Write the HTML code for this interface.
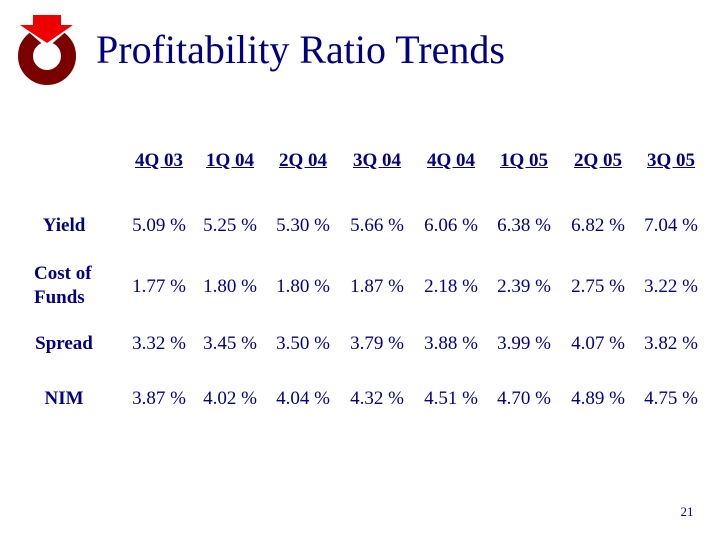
<!DOCTYPE html>
<html><head><style>
body{margin:0;width:720px;height:540px;background:#fff;position:relative;overflow:hidden;font-family:"Liberation Serif",serif;color:#000080}
.t{position:absolute;white-space:nowrap;transform:translate(-50%,-50%);font-size:19px}
.b{font-weight:bold}
.u{text-decoration:underline}
</style></head><body>
<svg width="100" height="100" style="position:absolute;left:0;top:0">
<circle cx="47" cy="56" r="21.5" fill="none" stroke="#7a0000" stroke-width="15"/>
<polygon points="17,22 47,48 77,22" fill="#fff"/>
<polygon points="33,15 61,15 61,25 73,25 47,43 20,25 33,25" fill="#ee0000"/>
</svg>
<div style="position:absolute;left:96px;top:27px;font-size:40px;line-height:46px">Profitability Ratio Trends</div>
<div class="t b u" style="left:159px;top:161px">4Q 03</div>
<div class="t b u" style="left:230px;top:161px">1Q 04</div>
<div class="t b u" style="left:303px;top:161px">2Q 04</div>
<div class="t b u" style="left:377px;top:161px">3Q 04</div>
<div class="t b u" style="left:451px;top:161px">4Q 04</div>
<div class="t b u" style="left:524px;top:161px">1Q 05</div>
<div class="t b u" style="left:598px;top:161px">2Q 05</div>
<div class="t b u" style="left:671px;top:161px">3Q 05</div>

<div class="t b" style="left:64px;top:226px">Yield</div>
<div class="t b" style="left:34px;top:286px;transform:translate(0,-50%);line-height:24px">Cost of<br>Funds</div>
<div class="t b" style="left:64px;top:344px">Spread</div>
<div class="t b" style="left:64px;top:399px">NIM</div>

<div class="t" style="left:159px;top:226px">5.09 %</div><div class="t" style="left:230px;top:226px">5.25 %</div><div class="t" style="left:303px;top:226px">5.30 %</div><div class="t" style="left:377px;top:226px">5.66 %</div><div class="t" style="left:451px;top:226px">6.06 %</div><div class="t" style="left:524px;top:226px">6.38 %</div><div class="t" style="left:598px;top:226px">6.82 %</div><div class="t" style="left:671px;top:226px">7.04 %</div>

<div class="t" style="left:159px;top:287px">1.77 %</div><div class="t" style="left:230px;top:287px">1.80 %</div><div class="t" style="left:303px;top:287px">1.80 %</div><div class="t" style="left:377px;top:287px">1.87 %</div><div class="t" style="left:451px;top:287px">2.18 %</div><div class="t" style="left:524px;top:287px">2.39 %</div><div class="t" style="left:598px;top:287px">2.75 %</div><div class="t" style="left:671px;top:287px">3.22 %</div>

<div class="t" style="left:159px;top:344px">3.32 %</div><div class="t" style="left:230px;top:344px">3.45 %</div><div class="t" style="left:303px;top:344px">3.50 %</div><div class="t" style="left:377px;top:344px">3.79 %</div><div class="t" style="left:451px;top:344px">3.88 %</div><div class="t" style="left:524px;top:344px">3.99 %</div><div class="t" style="left:598px;top:344px">4.07 %</div><div class="t" style="left:671px;top:344px">3.82 %</div>

<div class="t" style="left:159px;top:399px">3.87 %</div><div class="t" style="left:230px;top:399px">4.02 %</div><div class="t" style="left:303px;top:399px">4.04 %</div><div class="t" style="left:377px;top:399px">4.32 %</div><div class="t" style="left:451px;top:399px">4.51 %</div><div class="t" style="left:524px;top:399px">4.70 %</div><div class="t" style="left:598px;top:399px">4.89 %</div><div class="t" style="left:671px;top:399px">4.75 %</div>

<div class="t" style="left:687px;top:512px;font-size:13px">21</div>
</body></html>
